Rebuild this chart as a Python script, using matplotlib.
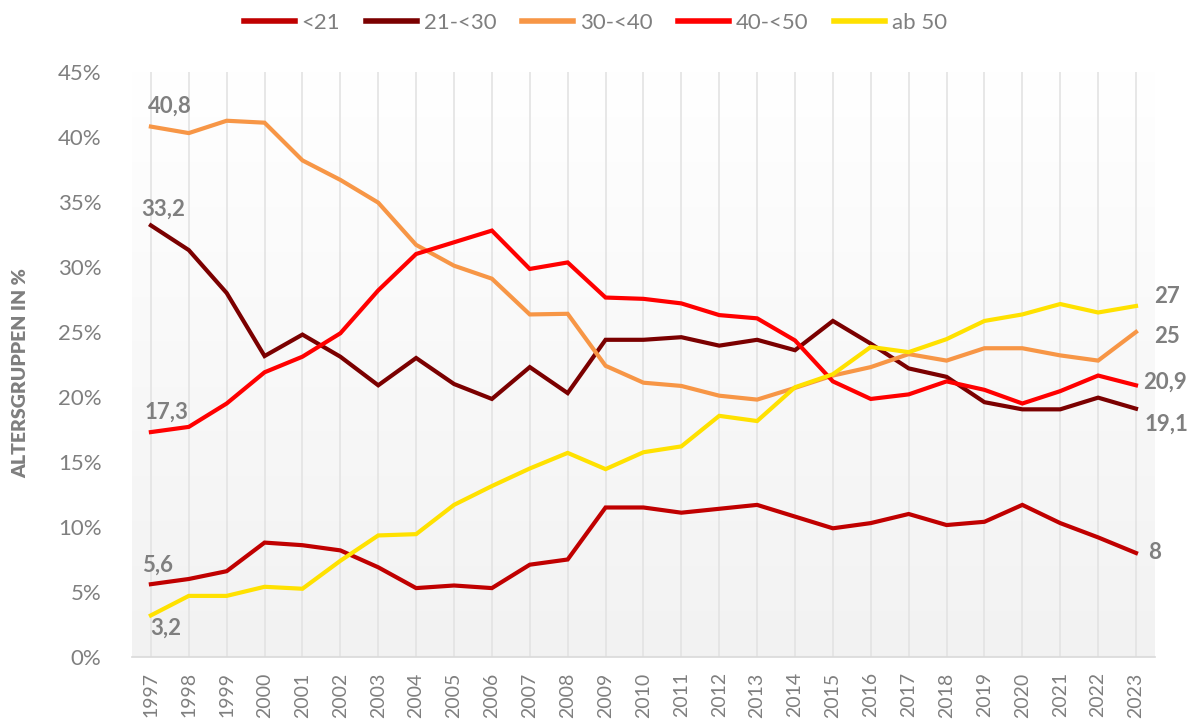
import numpy as np
import matplotlib
matplotlib.use("Agg")
import matplotlib.pyplot as plt
from matplotlib.ticker import FuncFormatter

plt.rcParams['font.family'] = ['Lato', 'DejaVu Sans']

years = list(range(1997, 2024))

# Anteile der Altersgruppen in %
u21 = [5.6, 6.0, 6.6, 8.8, 8.6, 8.2, 6.9, 5.3, 5.5, 5.3, 7.1, 7.5, 11.5, 11.5,
       11.1, 11.4, 11.7, 10.8, 9.9, 10.3, 11.0, 10.15, 10.4, 11.7, 10.3, 9.2, 8.0]
a21_30 = [33.2, 31.3, 28.0, 23.15, 24.8, 23.1, 20.9, 23.0, 21.0, 19.85, 22.3, 20.3,
          24.4, 24.4, 24.6, 23.95, 24.4, 23.6, 25.85, 24.1, 22.2, 21.55, 19.6,
          19.05, 19.05, 19.95, 19.1]
a30_40 = [40.8, 40.3, 41.25, 41.1, 38.2, 36.7, 34.95, 31.7, 30.1, 29.1, 26.35, 26.4,
          22.4, 21.1, 20.85, 20.1, 19.8, 20.7, 21.65, 22.3, 23.3, 22.8, 23.75,
          23.75, 23.2, 22.8, 25.0]
a40_50 = [17.3, 17.7, 19.5, 21.9, 23.1, 24.9, 28.2, 31.0, 31.9, 32.8, 29.85, 30.35,
          27.65, 27.55, 27.2, 26.3, 26.05, 24.35, 21.2, 19.85, 20.2, 21.2, 20.55,
          19.5, 20.45, 21.65, 20.9]
ab50 = [3.2, 4.7, 4.7, 5.4, 5.25, 7.4, 9.35, 9.45, 11.7, 13.15, 14.5, 15.7, 14.45,
        15.75, 16.2, 18.55, 18.15, 20.75, 21.75, 23.85, 23.45, 24.45, 25.85, 26.35,
        27.15, 26.5, 27.0]

series = [
    ("<21", u21, "#c00000"),
    ("21-<30", a21_30, "#7b0000"),
    ("30-<40", a30_40, "#f79646"),
    ("40-<50", a40_50, "#ff0000"),
    ("ab 50", ab50, "#ffe100"),
]

# first / last labels: (text, dx, dy) in pixels
start_labels = {"<21": ("5,6", 7, 19), "21-<30": ("33,2", 12, 16),
                "30-<40": ("40,8", 19, 20), "40-<50": ("17,3", 16, 20),
                "ab 50": ("3,2", 15, -13)}
end_labels = {"<21": ("8", 19, 0), "21-<30": ("19,1", 30, -16),
              "30-<40": ("25", 31, -5), "40-<50": ("20,9", 29, 3),
              "ab 50": ("27", 31, 9)}

grey = "#7f7f7f"

fig = plt.figure(figsize=(11.93, 7.25), dpi=100)
ax = fig.add_axes([0.1106, 0.0938, 0.8575, 0.8069])

x = np.arange(len(years))
ax.set_xlim(-0.5, len(years) - 0.5)
ax.set_ylim(0, 45)

# gradient background: white at top, light grey at bottom
grad = np.linspace(1.0, 0.0, 256).reshape(-1, 1)
top = np.array([1.0, 1.0, 1.0])
bot = np.array([0.949, 0.949, 0.949])
img = grad[..., None] * top + (1 - grad[..., None]) * bot
ax.imshow(img, extent=[-0.5, len(years) - 0.5, 0, 45], aspect='auto',
          zorder=0, origin='upper')

for xi in x:
    ax.axvline(xi, color="#e3e3e3", lw=1.2, zorder=1)

for name, vals, col in series:
    ax.plot(x, vals, color=col, lw=3, label=name, zorder=3,
            solid_joinstyle='miter')
    t, dx, dy = start_labels[name]
    ax.annotate(t, (x[0], vals[0]), xytext=(dx, dy), textcoords='offset pixels',
                ha='center', va='center', fontsize=16, fontweight='bold', color=grey)
    t, dx, dy = end_labels[name]
    ax.annotate(t, (x[-1], vals[-1]), xytext=(dx, dy), textcoords='offset pixels',
                ha='center', va='center', fontsize=16, fontweight='bold', color=grey,
                annotation_clip=False)

ax.set_yticks(np.arange(0, 46, 5))
ax.yaxis.set_major_formatter(FuncFormatter(lambda v, p: f"{int(v)}%"))
ax.set_xticks(x)
ax.set_xticklabels([str(y) for y in years], rotation=90)
ax.tick_params(axis='both', length=0, colors=grey)
ax.tick_params(axis='y', pad=22, labelsize=16)
ax.tick_params(axis='x', pad=11, labelsize=14)

for s in ["top", "right", "left"]:
    ax.spines[s].set_visible(False)
ax.spines["bottom"].set_color("#d9d9d9")
ax.spines["bottom"].set_linewidth(1.2)

fig.text(0.017, 0.485, "ALTERSGRUPPEN IN %", rotation=90, ha='center', va='center',
         fontsize=14, fontweight='heavy', color=grey)

leg = fig.legend(loc='center', bbox_to_anchor=(0.499, 0.968), ncol=5, frameon=False,
                 fontsize=16, handlelength=2.3, handletextpad=0.3, columnspacing=1.15,
                 labelcolor=grey)
for h in leg.get_lines():
    h.set_linewidth(4)

fig.savefig("out.png", dpi=100)
